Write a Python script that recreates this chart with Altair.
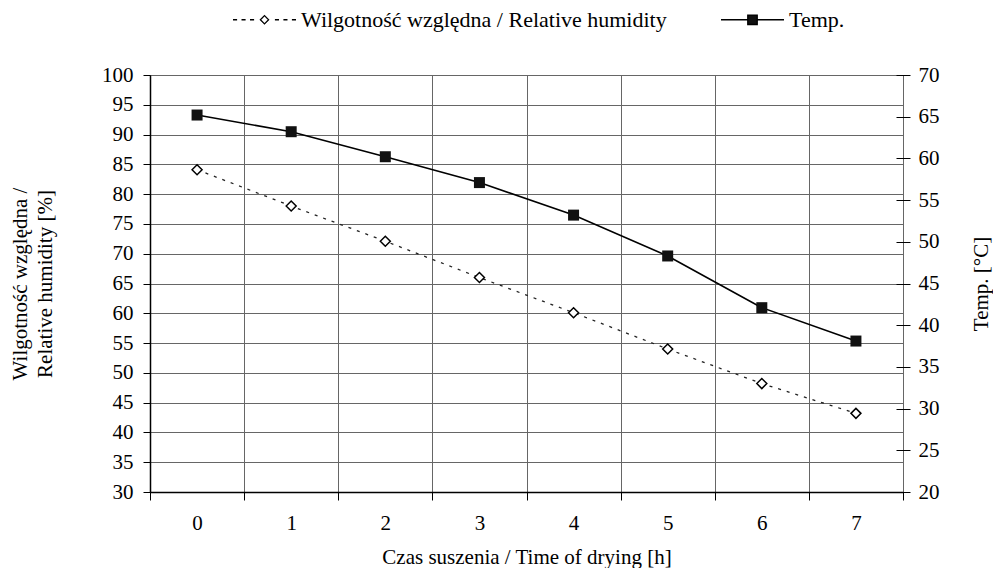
import altair as alt
import pandas as pd

hours = [0, 1, 2, 3, 4, 5, 6, 7]
humidity = [84.1, 78.0, 72.1, 66.0, 60.1, 54.0, 48.2, 43.2]
temperature = [65.2, 63.2, 60.2, 57.1, 53.2, 48.3, 42.1, 38.1]
left_ticks = list(range(30, 101, 5))
right_ticks = list(range(20, 71, 5))

hum_label = "Wilgotność względna / Relative humidity"
temp_label = "Temp."
x_title = "Czas suszenia / Time of drying  [h]"
left_title = ["Wilgotność względna /", "Relative humidity [%]"]
right_title = "Temp. [°C]"

FONT = "Liberation Serif"
FS = 21

df = pd.DataFrame({"t": hours, "hum": humidity, "temp": temperature})
legend_df = pd.DataFrame({"series": [hum_label, temp_label],
                          "t": [hours[0], hours[0]],
                          "hum": [humidity[0], humidity[0]]})

# legend symbols: dashed line + open diamond / solid line + filled square
hum_path = ("M-1,0H-0.87M-0.73,0H-0.6M-0.46,0H-0.33"
            "M-0.13,0L0,-0.13L0.13,0L0,0.13Z"
            "M0.33,0H0.46M0.6,0H0.73M0.87,0H1")
temp_path = "M-1,0H-0.15M0.15,0H1M-0.15,-0.15H0.15V0.15H-0.15Z"

x_enc = alt.X(
    "t:O",
    scale=alt.Scale(type="band", paddingInner=0, paddingOuter=0),
    axis=alt.Axis(
        title=x_title, labelAngle=0, tickBand="extent", grid=True,
        gridColor="#666", gridWidth=1, tickSize=8, tickColor="black",
        domainColor="black", domainWidth=1.5, labelPadding=12,
        titleY=65, titleBaseline="middle", titleAnchor="middle",
    ),
)

left_axis = alt.Axis(
    orient="left", values=left_ticks, grid=True, gridColor="#666", gridWidth=1,
    tickSize=7, tickColor="black", domainColor="black", domainWidth=1.5,
    labelPadding=10, title=left_title, titleAngle=270, titleX=-130,
    titleY=208.5, titleBaseline="middle", titleAlign="center", titleLineHeight=25,
)
right_axis = alt.Axis(
    orient="right", values=right_ticks, grid=False, offset=-7, tickSize=14,
    tickColor="black", domain=False, labelPadding=8, title=right_title,
    titleAngle=270, titleX=85, titleY=208.5, titleBaseline="middle",
    titleAlign="center",
)

y_hum = alt.Y("hum:Q", scale=alt.Scale(domain=[30, 100], nice=False, zero=False),
              axis=left_axis)
y_temp = alt.Y("temp:Q", scale=alt.Scale(domain=[20, 70], nice=False, zero=False),
               axis=right_axis)

hum_line = alt.Chart(df).mark_line(color="#222", strokeWidth=1.3,
                                   strokeDash=[3, 6]).encode(x=x_enc, y=y_hum)
hum_pts = alt.Chart(df).mark_point(shape="diamond", size=100, filled=True,
                                   fill="white", stroke="black", strokeWidth=1.5,
                                   opacity=1).encode(x=x_enc, y=y_hum)
# legend-only layer: its rows are filtered away, the legend comes from the scale domain
legend_layer = alt.Chart(legend_df).transform_filter("false").mark_point(
    filled=True, opacity=1, stroke="black", strokeWidth=1.3).encode(
    x=x_enc, y=y_hum,
    color=alt.Color("series:N",
                    scale=alt.Scale(domain=[hum_label, temp_label],
                                    range=["white", "#111"]),
                    legend=alt.Legend(
                        title=None, orient="none", direction="horizontal",
                        legendX=82, legendY=-88, padding=0,
                        symbolSize=3969, symbolStrokeColor="black",
                        symbolStrokeWidth=1.3, symbolOpacity=1,
                        labelFont=FONT, labelFontSize=22, labelColor="black",
                        labelOffset=4, columnPadding=51, labelLimit=1000,
                    )),
    shape=alt.Shape("series:N",
                    scale=alt.Scale(domain=[hum_label, temp_label],
                                    range=[hum_path, temp_path]),
                    legend=alt.Legend(title=None)),
)

temp_line = alt.Chart(df).mark_line(color="black", strokeWidth=1.6).encode(
    x=x_enc, y=y_temp)
temp_pts = alt.Chart(df).mark_point(shape="square", size=121, filled=True,
                                    color="#111", opacity=1).encode(x=x_enc, y=y_temp)

chart = alt.layer(
    alt.layer(hum_line, hum_pts, legend_layer),
    alt.layer(temp_line, temp_pts),
).resolve_scale(y="independent").properties(
    width=753, height=417, background="white",
    autosize=alt.AutoSizeParams(type="none"),
    padding={"left": 142, "top": 67, "right": 90, "bottom": 76},
).configure_view(stroke="black", strokeWidth=1).configure_axis(
    labelFont=FONT, labelFontSize=FS, labelColor="black",
    titleFont=FONT, titleFontSize=FS, titleColor="black", titleFontWeight="normal",
)

chart.save("out.html", embed_options={"renderer": "svg", "actions": False})
